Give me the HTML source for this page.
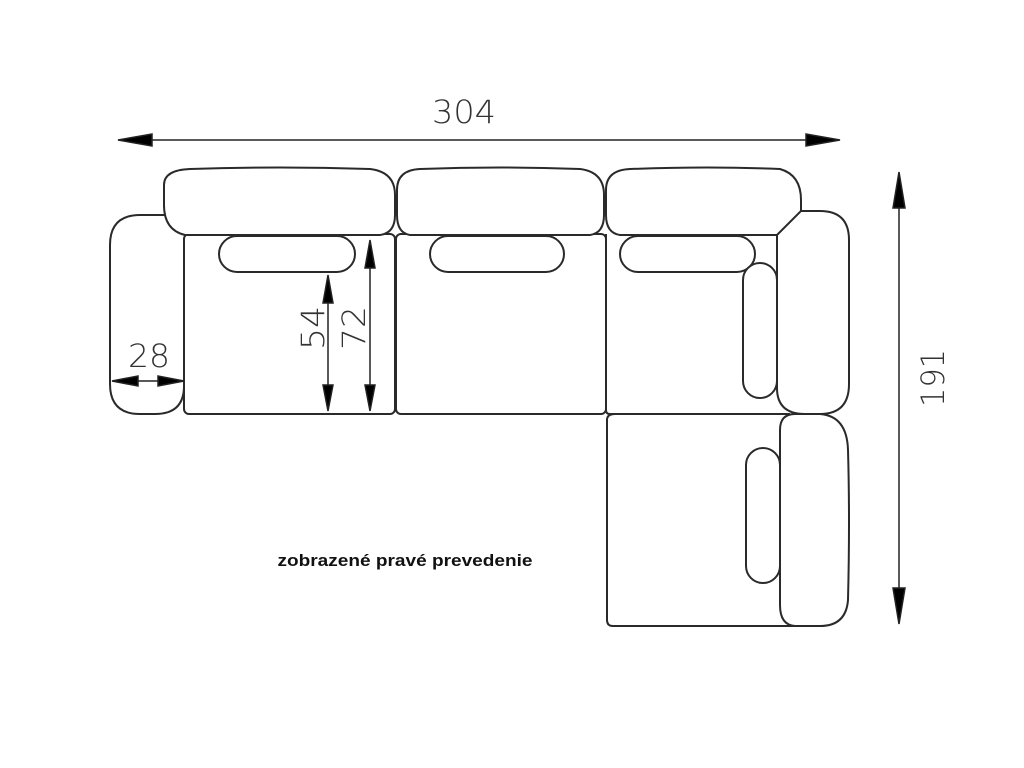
<!DOCTYPE html>
<html><head><style>body{margin:0;background:#fff}svg{display:block}</style></head><body>
<svg width="1024" height="768" viewBox="0 0 1024 768" xmlns="http://www.w3.org/2000/svg">
<g fill="none" stroke="#2a2a2a" stroke-width="2">
<path d="M165 215 H140 Q110 215 110 245 V384 Q110 414 140 414 H155 Q184 414 184 386"/>
<rect x="184" y="234" width="211" height="180" rx="5"/>
<rect x="396" y="234" width="210" height="180" rx="5"/>
<path d="M606 234 V410 Q606 414 610 414 H790"/>
<path d="M185 235 Q164 230 164 205 V185 Q164 170 190 169 Q280 166 370 169 Q395 172 395 195 V215 Q395 233 380 235 Z" fill="#fff"/>
<path d="M410 235 Q397 233 397 215 V190 Q397 170 420 169 Q500 166 580 169 Q604 172 604 195 V215 Q604 233 590 235 Z" fill="#fff"/>
<path d="M620 235 Q606 233 606 215 V190 Q606 170 630 169 Q710 166 780 169 Q801 175 801 200 V211 L777 235 Z" fill="#fff"/>
<path d="M801 211 H820 Q849 211 849 240 V384 Q849 414 820 414 H805 Q777 414 777 388 V235"/>
<rect x="219" y="236" width="136" height="36" rx="18"/>
<rect x="430" y="236" width="134" height="36" rx="18"/>
<rect x="620" y="236" width="135" height="36" rx="18"/>
<rect x="743" y="263" width="34" height="135" rx="17" fill="#fff"/>
<path d="M615 414 Q607 414 607 420 V620 Q607 626 613 626 H795"/>
<path d="M795 414 H820 Q847 416 848 450 Q850 520 848 600 Q846 626 820 626 H795 Q780 625 780 605 V430 Q780 414 795 414 Z"/>
<rect x="746" y="448" width="34" height="135" rx="17"/>
</g>
<g stroke="#222" stroke-width="1.5" fill="#000">
<line x1="150" y1="140" x2="810" y2="140"/>
<polygon points="118,140 152,134 152,146"/>
<polygon points="840,140 806,134 806,146"/>
<line x1="899" y1="200" x2="899" y2="595"/>
<polygon points="899,172 893,208 905,208"/>
<polygon points="899,624 893,588 905,588"/>
<line x1="128" y1="381" x2="170" y2="381"/>
<polygon points="112,381 138,376 138,386"/>
<polygon points="184,381 158,376 158,386"/>
<line x1="328" y1="290" x2="328" y2="395"/>
<polygon points="328,275 323,303 333,303"/>
<polygon points="328,411 323,385 333,385"/>
<line x1="370" y1="255" x2="370" y2="395"/>
<polygon points="370,240 365,268 375,268"/>
<polygon points="370,411 365,385 375,385"/>
</g>
<g font-family="DejaVu Sans, sans-serif" font-weight="300" fill="#333" font-size="32" text-anchor="middle">
<text x="464" y="123" textLength="64" lengthAdjust="spacingAndGlyphs">304</text>
<text x="149" y="367" textLength="42" lengthAdjust="spacingAndGlyphs">28</text>
<text transform="translate(324,328) rotate(-90)" textLength="44" lengthAdjust="spacingAndGlyphs">54</text>
<text transform="translate(365,328) rotate(-90)" textLength="44" lengthAdjust="spacingAndGlyphs">72</text>
<text transform="translate(944,378) rotate(-90)" textLength="58" lengthAdjust="spacingAndGlyphs">191</text>
</g>
<text x="405" y="566" font-family="Liberation Sans, sans-serif" font-weight="bold" font-size="17" text-anchor="middle" fill="#111" textLength="255" lengthAdjust="spacingAndGlyphs">zobrazené pravé prevedenie</text>
</svg>
</body></html>
